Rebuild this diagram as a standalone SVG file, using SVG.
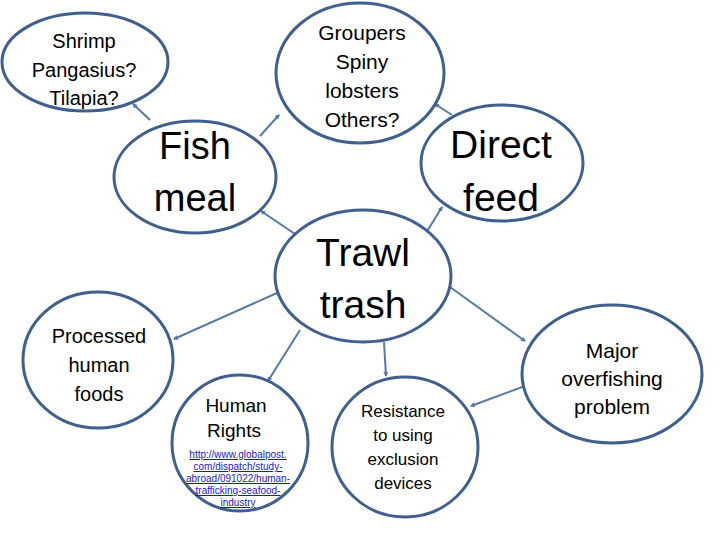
<svg xmlns="http://www.w3.org/2000/svg" width="720" height="540" viewBox="0 0 720 540">
<defs>
<style>
.n{fill:#fff;stroke:#3f5f8f;stroke-width:3}
.t{font-family:"Liberation Sans",Arial,sans-serif;fill:#000;text-anchor:middle}
.c{stroke:#5579a8;stroke-width:2;fill:none;marker-end:url(#ah)}
.lnk{font-family:"Liberation Sans",Arial,sans-serif;fill:#1a1acc;text-anchor:middle;font-size:10px;text-decoration:underline}
</style>
<marker id="ah" viewBox="0 0 10 10" refX="8" refY="5" markerWidth="2.5" markerHeight="2.5" orient="auto" markerUnits="strokeWidth">
<path d="M0,0 L10,5 L0,10 z" fill="#5579a8"/>
</marker>
</defs>
<rect width="720" height="540" fill="#fff"/>
<g id="connectors">
<line class="c" x1="150" y1="120" x2="133" y2="104"/>
<line class="c" x1="260" y1="136" x2="279" y2="115"/>
<line class="c" x1="295" y1="234" x2="261" y2="211"/>
<line class="c" x1="452" y1="115" x2="435" y2="104"/>
<line class="c" x1="426" y1="233" x2="442" y2="207"/>
<line class="c" x1="277" y1="293" x2="174" y2="339"/>
<line class="c" x1="300" y1="330" x2="268" y2="381"/>
<line class="c" x1="384" y1="342" x2="386" y2="376"/>
<line class="c" x1="450" y1="287" x2="525" y2="341"/>
<line class="c" x1="525" y1="386" x2="471" y2="406"/>
</g>
<g id="shrimp">
<ellipse class="n" cx="85" cy="62" rx="83" ry="49"/>
<text class="t" font-size="20" x="84" y="48">Shrimp</text>
<text class="t" font-size="20" x="84" y="77">Pangasius?</text>
<text class="t" font-size="20" x="84" y="105">Tilapia?</text>
</g>
<g id="groupers">
<ellipse class="n" cx="360" cy="73" rx="84" ry="70"/>
<text class="t" font-size="21" x="362" y="40">Groupers</text>
<text class="t" font-size="21" x="362" y="69">Spiny</text>
<text class="t" font-size="21" x="362" y="98">lobsters</text>
<text class="t" font-size="21" x="362" y="127">Others?</text>
</g>
<g id="fishmeal">
<ellipse class="n" cx="195" cy="177" rx="81" ry="56"/>
<text class="t" font-size="38" x="195" y="159">Fish</text>
<text class="t" font-size="38" x="195" y="211">meal</text>
</g>
<g id="directfeed">
<ellipse class="n" cx="502" cy="163" rx="81" ry="58"/>
<text class="t" font-size="39" x="501" y="158">Direct</text>
<text class="t" font-size="39" x="501" y="211">feed</text>
</g>
<g id="trawltrash">
<ellipse class="n" cx="363" cy="276" rx="88" ry="66"/>
<text class="t" font-size="39" x="363" y="266">Trawl</text>
<text class="t" font-size="39" x="363" y="318">trash</text>
</g>
<g id="processed">
<ellipse class="n" cx="98" cy="360" rx="75" ry="68"/>
<text class="t" font-size="20" x="99" y="343">Processed</text>
<text class="t" font-size="20" x="99" y="372">human</text>
<text class="t" font-size="20" x="99" y="401">foods</text>
</g>
<g id="humanrights">
<ellipse class="n" cx="240" cy="443" rx="68" ry="68"/>
<text class="t" font-size="19" x="236" y="412">Human</text>
<text class="t" font-size="19" x="234" y="437">Rights</text>
<text class="lnk" x="238" y="458">http://www.globalpost.</text>
<text class="lnk" x="238" y="470">com/dispatch/study-</text>
<text class="lnk" x="238" y="482">abroad/091022/human-</text>
<text class="lnk" x="238" y="494">trafficking-seafood-</text>
<text class="lnk" x="238" y="506">industry</text>
</g>
<g id="resistance">
<ellipse class="n" cx="405" cy="447" rx="73" ry="70"/>
<text class="t" font-size="17" x="403" y="417">Resistance</text>
<text class="t" font-size="17" x="403" y="441">to using</text>
<text class="t" font-size="17" x="403" y="465">exclusion</text>
<text class="t" font-size="17" x="403" y="489">devices</text>
</g>
<g id="major">
<ellipse class="n" cx="612" cy="374" rx="90" ry="69"/>
<text class="t" font-size="21" x="612" y="358">Major</text>
<text class="t" font-size="21" x="612" y="386">overfishing</text>
<text class="t" font-size="21" x="612" y="414">problem</text>
</g>
</svg>
